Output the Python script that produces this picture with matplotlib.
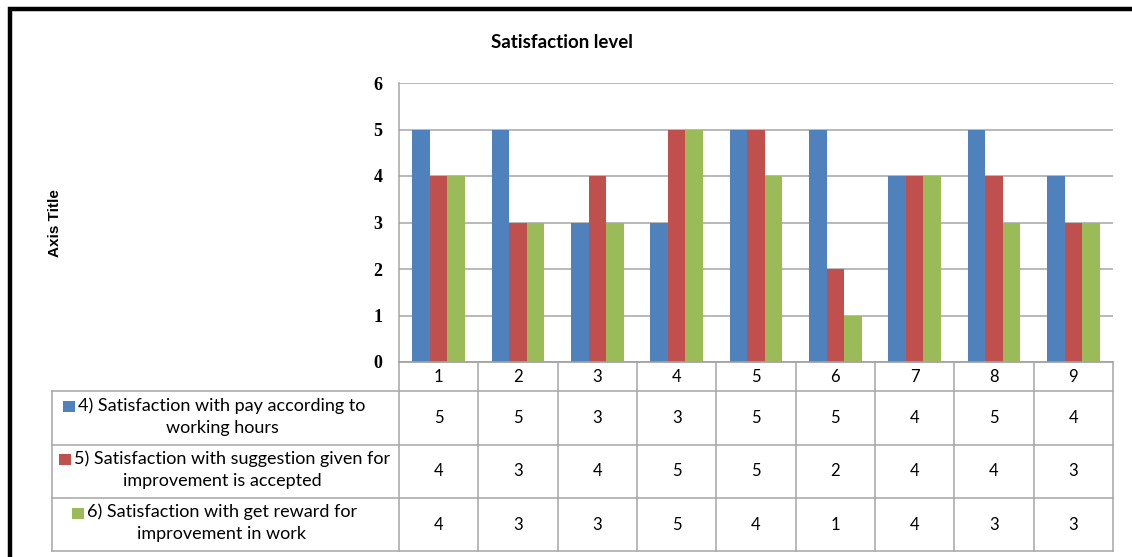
import matplotlib
matplotlib.use("Agg")
import matplotlib.pyplot as plt
from matplotlib.patches import Rectangle
import numpy as np

# data
categories = ["1", "2", "3", "4", "5", "6", "7", "8", "9"]
pay_hours = [5, 5, 3, 3, 5, 5, 4, 5, 4]
suggestion_accepted = [4, 3, 4, 5, 5, 2, 4, 4, 3]
reward_improvement = [4, 3, 3, 5, 4, 1, 4, 3, 3]
series_names = [
    ("4) Satisfaction with pay according to", "working hours"),
    ("5) Satisfaction with suggestion given for", "improvement is accepted"),
    ("6) Satisfaction with get reward for", "improvement in work"),
]
series_colors = ["#4F81BD", "#C0504D", "#9BBB59"]

W, H = 1132, 557
fig = plt.figure(figsize=(W / 100, H / 100), dpi=100)

def fx(px):
    return px / W

def fy(py):
    return 1 - py / H

body_font = "Lato"
grid_col = "#A6A6A6"

# outer chart frame (cut off on right and bottom like the screenshot)
fig.patches.append(Rectangle((fx(10), fy(600)), fx(1200), fy(9) - fy(600),
                             transform=fig.transFigure, fill=False,
                             edgecolor="black", linewidth=3.2))

# bar axes
plot_l, plot_r, plot_t, plot_b = 399, 1113, 83, 362
ax = fig.add_axes([fx(plot_l), fy(plot_b), fx(plot_r) - fx(plot_l), fy(plot_t) - fy(plot_b)])

all_series = [pay_hours, suggestion_accepted, reward_improvement]
x = np.arange(len(categories))
bw = 1 / 4.5
for i, (vals, col) in enumerate(zip(all_series, series_colors)):
    ax.bar(x + (i - 1) * bw, vals, width=bw, color=col, edgecolor="none", zorder=3)

ax.set_xlim(-0.5, len(categories) - 0.5)
ax.set_ylim(0, 6)
ax.set_yticks(range(0, 7))
ax.set_xticks([])
ax.grid(axis="y", color=grid_col, linewidth=1.1, zorder=0)
for s in ["top", "right"]:
    ax.spines[s].set_visible(False)
for s in ["left", "bottom"]:
    ax.spines[s].set_color(grid_col)
    ax.spines[s].set_linewidth(1.1)
ax.tick_params(axis="y", length=0, pad=12)
for lab in ax.get_yticklabels():
    lab.set_fontfamily("Liberation Serif")
    lab.set_fontsize(13)
    lab.set_fontweight("bold")

# titles
fig.text(fx(562), fy(42), "Satisfaction level", ha="center", va="center",
         fontsize=13.5, fontweight="bold", family=body_font)
fig.text(fx(55), fy(223), "Axis Title", ha="center", va="center", rotation=90,
         fontsize=11, fontweight="bold", family="Liberation Sans")

# data table below the bars
tab_b = 551
tax = fig.add_axes([fx(plot_l), fy(tab_b), fx(plot_r) - fx(plot_l), fy(plot_b) - fy(tab_b)])
tax.set_xlim(-0.5, len(categories) - 0.5)
tax.set_ylim(tab_b - plot_b, 0)   # y in pixels below the plot bottom
tax.axis("off")

col_w = (plot_r - plot_l) / len(categories)

def px_to_x(px):
    return -0.5 + (px - plot_l) / col_w

leg_left = px_to_x(52)
row_edges = [0, 29, 82.5, 136, 189]
lkw = dict(color=grid_col, linewidth=1.1, clip_on=False)

# horizontal lines
tax.plot([-0.5, len(categories) - 0.5], [0, 0], **lkw)
for y in row_edges[1:]:
    tax.plot([leg_left, len(categories) - 0.5], [y, y], **lkw)
# vertical lines
for k in range(len(categories) + 1):
    tax.plot([k - 0.5, k - 0.5], [0, row_edges[-1]], **lkw)
tax.plot([leg_left, leg_left], [row_edges[1], row_edges[-1]], **lkw)

cell_fs = 12
for k, c in enumerate(categories):
    tax.text(k, (row_edges[0] + row_edges[1]) / 2 + 1, c, ha="center", va="center",
             fontsize=cell_fs, family=body_font)

leg_center = px_to_x(222)
fig.canvas.draw()
renderer = fig.canvas.get_renderer()
for r, (vals, (line1, line2), col) in enumerate(zip(all_series, series_names, series_colors)):
    yc = (row_edges[r + 1] + row_edges[r + 2]) / 2
    for k, v in enumerate(vals):
        tax.text(k, yc, str(v), ha="center", va="center", fontsize=cell_fs, family=body_font)
    t1 = tax.text(leg_center, yc - 7, line1, ha="center", va="baseline", fontsize=13,
                  family=body_font)
    tax.text(leg_center, yc + 15, line2, ha="center", va="baseline", fontsize=13,
             family=body_font)
    bb = t1.get_window_extent(renderer=renderer)
    # push the first line right if the colour key would hit the cell border
    key_px = bb.x0 - 15
    if key_px < 59:
        shift = 59 - key_px
        t1.set_x(px_to_x(222 + shift))
        key_px = 59
    tax.add_patch(Rectangle((px_to_x(key_px), yc - 17), 12 / col_w, 11, facecolor=col,
                            edgecolor="none", clip_on=False))

fig.savefig("out.png", dpi=100)
